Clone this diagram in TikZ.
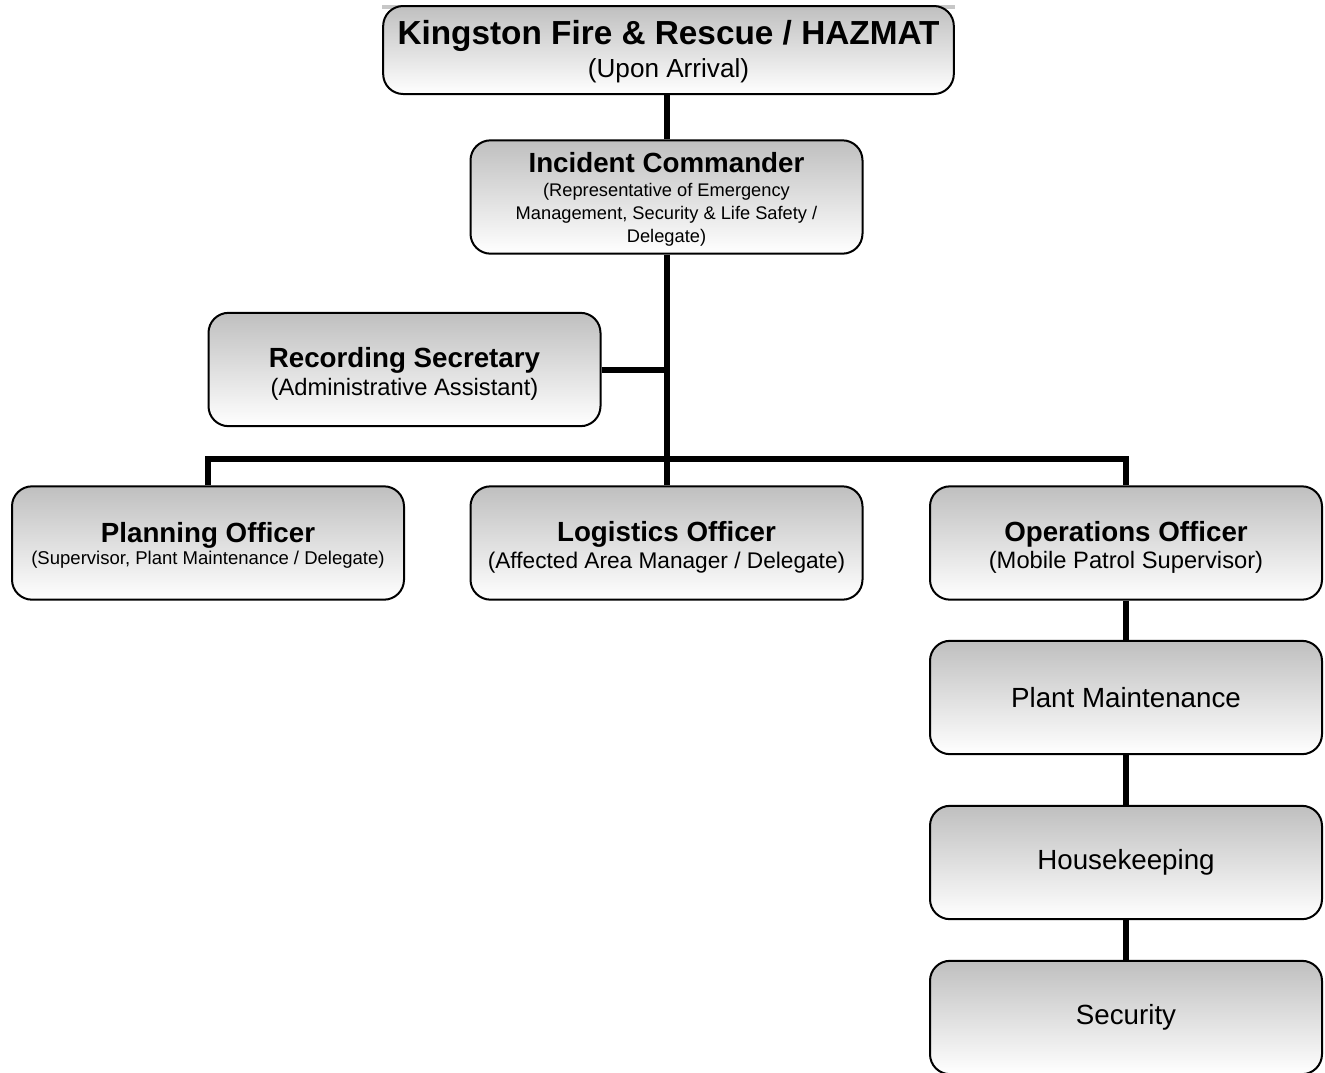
\documentclass[tikz,border=0pt]{standalone}
\usepackage{fontspec}
\setmainfont{Liberation Sans}

\tikzset{
	orgbox/.style={draw, line width=1.5pt, rounded corners=15pt, top color=black!25, bottom color=white,
		minimum width=294pt, minimum height=85pt, align=center, inner sep=2pt},
	link/.style={line width=4.5pt},
}
\newcommand{\ttl}[2][22pt]{{\fontsize{20.8}{25}\selectfont\bfseries\rule{0pt}{#1}#2}}
\newcommand{\ttlbig}[1]{{\fontsize{25}{30}\selectfont\bfseries\rule{0pt}{21pt}#1}}

\begin{document}
\begin{tikzpicture}[x=0.75pt, y=-0.75pt]
	\useasboundingbox (0,0) rectangle (1325,1072);
	
	%top
	\fill[black!22] (382,5) rectangle (955,8.5);
	\node[orgbox, minimum width=428pt, minimum height=66pt, font=\fontsize{19.6}{25}\selectfont] (fire) at (668.5,50)
		{\ttlbig{Kingston Fire \& Rescue / HAZMAT}\\(Upon Arrival)};
	\node[orgbox, font=\fontsize{13.7}{17}\selectfont] (ic) at (666.5,197)
		{\ttl[18.5pt]{Incident Commander}\\[1pt](Representative of Emergency\\Management, Security \& Life Safety /\\Delegate)};
	\node[orgbox, font=\fontsize{17.8}{21}\selectfont] (rec) at (404.5,369.5)
		{\ttl{Recording Secretary}\\(Administrative Assistant)};
	
	%officers
	\node[orgbox, font=\fontsize{13.9}{17}\selectfont] (plan) at (208,543)
		{\ttl[18.5pt]{Planning Officer}\\(Supervisor, Plant Maintenance / Delegate)};
	\node[orgbox, font=\fontsize{17}{20.5}\selectfont] (logi) at (666.5,543)
		{\ttl{Logistics Officer}\\(Affected Area Manager / Delegate)};
	\node[orgbox, font=\fontsize{17.8}{20.5}\selectfont] (ops) at (1126,543)
		{\ttl{Operations Officer}\\(Mobile Patrol Supervisor)};
	
	%operations units
	\node[orgbox, font=\fontsize{20.8}{25}\selectfont] (plant) at (1126,697.5) {Plant Maintenance};
	\node[orgbox, font=\fontsize{20.8}{25}\selectfont] (house) at (1126,862.5) {Housekeeping};
	\node[orgbox, font=\fontsize{20.8}{25}\selectfont] (sec) at (1126,1017.5) {Security};
	
	%lines
	\coordinate (bus) at (666.5,459);
	\draw[link] (ic.north) -- (ic.north |- fire.south);
	\draw[link] (ic.south) -- (logi.north);
	\draw[link] (rec.east) -- (rec.east -| ic.south);
	\draw[link] (plan.north) |- (bus) -| (ops.north);
	\draw[link] (ops) -- (plant);
	\draw[link] (plant) -- (house);
	\draw[link] (house) -- (sec);
\end{tikzpicture}
\end{document}
